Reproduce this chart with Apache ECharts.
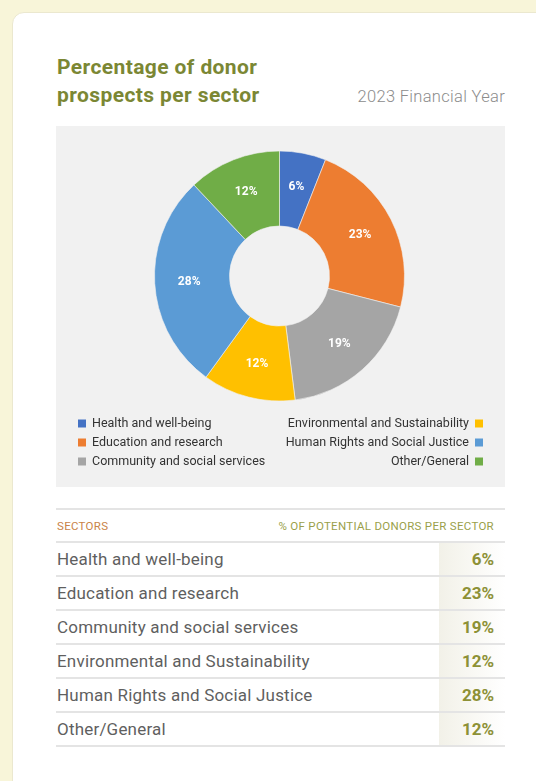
<!DOCTYPE html>
<html>
<head>
<meta charset="utf-8">
<script src="https://cdn.jsdelivr.net/npm/echarts@6/dist/echarts.min.js"></script>
<style>
  html, body {
    margin: 0;
    padding: 0;
    width: 536px;
    height: 781px;
    overflow: hidden;
    background: #f8f5d9;
    font-family: Roboto, "Noto Sans", sans-serif;
  }
  .card {
    position: absolute;
    left: 12px;
    top: 12px;
    width: 560px;
    height: 800px;
    background: #fff;
    border: 1px solid #ebe8cf;
    border-radius: 12px;
  }
  .title {
    position: absolute;
    left: 44px;
    top: 40px;
    margin: 0;
    font-size: 21px;
    line-height: 28px;
    font-weight: 700;
    letter-spacing: 0.4px;
    color: #7b8734;
  }
  .year {
    position: absolute;
    right: 68px;
    top: 74px;
    font-size: 16.5px;
    letter-spacing: 0.3px;
    color: #8c8c8c;
    font-weight: 300;
  }
  #main {
    position: absolute;
    left: 43px;
    top: 113px;
    width: 449px;
    height: 361px;
  }
  .tbl {
    position: absolute;
    left: 43px;
    top: 495px;
    width: 449px;
    border-top: 2px solid #e4e4e4;
  }
  .row {
    display: flex;
    align-items: center;
    height: 32px;
    border-bottom: 2px solid #e4e4e4;
  }
  .head {
    height: 31px;
    font-size: 11.5px;
    letter-spacing: 0.3px;
    white-space: nowrap;
  }
  .head .sec { color: #c98347; flex: 1; padding-left: 1px; }
  .head .pct { color: #9a9f4a; padding-right: 11px; }
  .row .name {
    flex: 1;
    font-size: 17px;
    letter-spacing: 0.2px;
    color: #5f5f5f;
    padding-left: 1px;
  }
  .row .val {
    width: 55px;
    height: 100%;
    line-height: 32px;
    text-align: right;
    padding-right: 11px;
    font-size: 17px;
    font-weight: 700;
    color: #8d9136;
    background: linear-gradient(to right, #f2f1e8, #ffffff);
  }
</style>
</head>
<body>
<div class="card">
  <h1 class="title">Percentage of donor<br>prospects per sector</h1>
  <div class="year">2023 Financial Year</div>
  <div id="main"></div>
  <div class="tbl" id="tbl">
    <div class="row head"><span class="sec">SECTORS</span><span class="pct">% OF POTENTIAL DONORS PER SECTOR</span></div>
  </div>
</div>
<script>
const sectors = [
  'Health and well-being',
  'Education and research',
  'Community and social services',
  'Environmental and Sustainability',
  'Human Rights and Social Justice',
  'Other/General'
]
const percents = [6, 23, 19, 12, 28, 12]
const colors = ['#4472c4', '#ed7d31', '#a5a5a5', '#ffc000', '#5b9bd5', '#70ad47']

// table rows
const tbl = document.getElementById('tbl')
sectors.forEach((name, i) => {
  const row = document.createElement('div')
  row.className = 'row'
  row.innerHTML = '<span class="name">' + name + '</span><span class="val">' + percents[i] + '%</span>'
  tbl.appendChild(row)
})

const myChart = echarts.init(document.getElementById('main'))

const legendBase = {
  orient: 'vertical',
  icon: 'rect',
  itemWidth: 10,
  itemHeight: 10,
  itemGap: 6,
  selectedMode: false,
  textStyle: {
    fontFamily: 'Roboto',
    fontSize: 12.5,
    color: '#333'
  }
}

const option = {
  backgroundColor: '#f1f1f1',
  color: colors,
  legend: [
    Object.assign({}, legendBase, {
      left: 15,
      top: 286,
      data: sectors.slice(0, 3)
    }),
    Object.assign({}, legendBase, {
      right: 15,
      top: 286,
      align: 'right',
      data: sectors.slice(3)
    })
  ],
  series: [
    {
      type: 'pie',
      center: [223.5, 150],
      radius: [50, 125],
      startAngle: 90,
      clockwise: true,
      avoidLabelOverlap: false,
      itemStyle: {
        borderColor: '#f1f1f1',
        borderWidth: 0.6
      },
      label: {
        position: 'inside',
        formatter: '{c}%',
        color: '#fff',
        fontFamily: 'Roboto',
        fontWeight: 'bold',
        fontSize: 12
      },
      labelLine: { show: false },
      emphasis: { disabled: true },
      data: sectors.map((name, i) => ({ name: name, value: percents[i] }))
    }
  ]
}

myChart.setOption(option)
</script>
</body>
</html>
